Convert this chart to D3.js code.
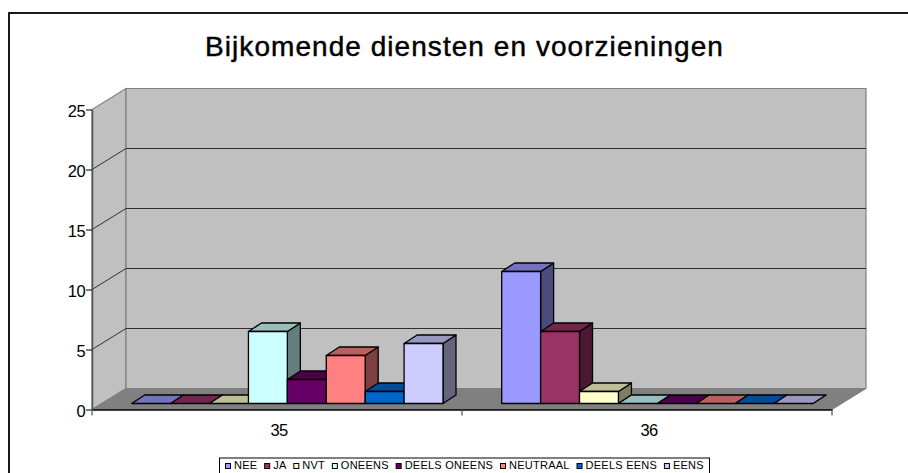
<!DOCTYPE html>
<html>
<head>
<meta charset="utf-8">
<script src="https://cdn.jsdelivr.net/npm/d3@7"></script>
<style>
  html, body { margin: 0; padding: 0; background: #fff; overflow: hidden; }
  text { font-family: "Liberation Sans", Arial, sans-serif; fill: #000; }
</style>
</head>
<body>
<script>
const titleText = "Bijkomende diensten en voorzieningen";
const categories = ["35", "36"];
const seriesNames = ["NEE", "JA", "NVT", "ONEENS", "DEELS ONEENS", "NEUTRAAL", "DEELS EENS", "EENS"];
const seriesColors = ["#9999FF", "#993366", "#FFFFCC", "#CCFFFF", "#660066", "#FF8080", "#0066CC", "#CCCCFF"];
const values35 = [0, 0, 0, 6, 2, 4, 1, 5];
const values36 = [11, 6, 1, 0, 0, 0, 0, 0];
const yTicks = [0, 5, 10, 15, 20, 25];

const w = 908;
const h = 473;

// the 3d box: front plane and how far the back wall is pushed away
const wallDx = 34;
const wallDy = -21;
// bars stand a little in from the front edge of the floor
const barDy = -6;
const depthDx = 13;
const depthDy = -8.5;

let svg = d3.select("body")
            .append("svg")
            .attr("width", w)
            .attr("height", h)
            .style("display", "block");

let x = d3.scaleBand().domain(categories).range([92, 832]);
let xs = d3.scaleBand().domain(seriesNames).range([39.7, 351]);
let y = d3.scaleLinear().domain([0, 25]).range([409.5, 109.5]);

let poly = (pts) => pts.map((p) => p.join(",")).join(" ");

// outer frame, runs off the picture on the right and at the bottom
svg.append("rect")
    .attr("x", 9).attr("y", 13)
    .attr("width", w + 20).attr("height", h + 20)
    .attr("fill", "#fff")
    .attr("stroke", "#000")
    .attr("stroke-width", 1.8);

svg.append("text")
    .attr("x", 464.5).attr("y", 55.5)
    .attr("text-anchor", "middle")
    .attr("font-size", 28)
    .attr("letter-spacing", 1.05)
    .attr("stroke", "#000")
    .attr("stroke-width", 0.45)
    .text(titleText);

// walls and floor
const x0 = x.range()[0], x1 = x.range()[1];
const y0 = y(0), yTop = y(25);

svg.append("polygon")
    .attr("points", poly([[x0, y0], [x0 + wallDx, y0 + wallDy], [x0 + wallDx, yTop + wallDy], [x0, yTop]]))
    .attr("fill", "#C0C0C0").attr("stroke", "#808080").attr("stroke-width", 1.2);
svg.append("polygon")
    .attr("points", poly([[x0 + wallDx, y0 + wallDy], [x1 + wallDx, y0 + wallDy], [x1 + wallDx, yTop + wallDy], [x0 + wallDx, yTop + wallDy]]))
    .attr("fill", "#C0C0C0").attr("stroke", "#808080").attr("stroke-width", 1.2);
svg.append("polygon")
    .attr("points", poly([[x0, y0], [x1, y0], [x1 + wallDx, y0 + wallDy], [x0 + wallDx, y0 + wallDy]]))
    .attr("fill", "#808080").attr("stroke", "#808080").attr("stroke-width", 1);

// gridlines go up the side wall and then across the back
svg.selectAll("polyline.grid")
    .data(yTicks.slice(1, -1))
    .enter()
    .append("polyline")
    .attr("class", "grid")
    .attr("fill", "none")
    .attr("stroke", "#303030")
    .attr("stroke-width", 1)
    .attr("points", (d) => poly([[x0, y(d)], [x0 + wallDx, y(d) + wallDy], [x1 + wallDx, y(d) + wallDy]]));

// bars, left to right so each one covers the side of the one before
let bars = [];
categories.forEach((c, ci) => {
    let vals = ci === 0 ? values35 : values36;
    seriesNames.forEach((s, si) => {
        bars.push({ cat: c, name: s, value: vals[si], color: seriesColors[si] });
    });
});

let barG = svg.selectAll("g.bar")
    .data(bars)
    .enter()
    .append("g")
    .attr("class", "bar")
    .attr("stroke", "#000")
    .attr("stroke-width", 1.3)
    .attr("stroke-linejoin", "round");

let barLeft = (d) => x(d.cat) + xs(d.name);
let barRight = (d) => barLeft(d) + xs.bandwidth();
let base = barDy + y(0);
let barTop = (d) => y(d.value) + barDy;

barG.append("polygon")
    .attr("points", (d) => poly([[barRight(d), base], [barRight(d) + depthDx, base + depthDy], [barRight(d) + depthDx, barTop(d) + depthDy], [barRight(d), barTop(d)]]))
    .attr("fill", (d) => d3.rgb(d.color).darker(2).formatHex());
barG.append("polygon")
    .attr("points", (d) => poly([[barLeft(d), barTop(d)], [barLeft(d) + depthDx, barTop(d) + depthDy], [barRight(d) + depthDx, barTop(d) + depthDy], [barRight(d), barTop(d)]]))
    .attr("fill", (d) => d3.rgb(d.color).darker(0.83).formatHex());
barG.filter((d) => d.value > 0)
    .append("rect")
    .attr("x", barLeft)
    .attr("y", barTop)
    .attr("width", xs.bandwidth())
    .attr("height", (d) => base - barTop(d))
    .attr("fill", (d) => d.color);

// axes
let yAxis = svg.append("g")
    .attr("transform", "translate(" + x0 + ",0)")
    .call(d3.axisLeft(y).tickValues(yTicks).tickSize(6).tickSizeOuter(0).tickPadding(1));
yAxis.select(".domain").attr("stroke", "#505050").attr("stroke-width", 1.5);
yAxis.selectAll("line").attr("stroke", "#000");
yAxis.selectAll("text").attr("font-size", 16.5).attr("font-family", "Liberation Sans").attr("letter-spacing", -0.6).attr("y", 1.5);

let xAxis = svg.append("g")
    .attr("transform", "translate(0," + y0 + ")")
    .call(d3.axisBottom(x).tickSize(0).tickPadding(15));
xAxis.select(".domain").attr("stroke", "#000").attr("stroke-width", 1.3);
xAxis.selectAll("text").attr("font-size", 16.5).attr("font-family", "Liberation Sans").attr("letter-spacing", -0.6).attr("dx", 2);
// category ticks sit on the band edges
svg.selectAll("line.xtick")
    .data([x0, ...categories.map((c) => x(c) + x.bandwidth())])
    .enter()
    .append("line")
    .attr("class", "xtick")
    .attr("x1", (d) => d).attr("x2", (d) => d)
    .attr("y1", y0).attr("y2", y0 + 6)
    .attr("stroke", "#505050").attr("stroke-width", 1.2);

// legend
let legend = svg.append("g");
legend.append("rect")
    .attr("x", 219.5).attr("y", 458)
    .attr("width", 490).attr("height", 30)
    .attr("fill", "#fff").attr("stroke", "#000").attr("stroke-width", 1);

let lx = 225;
seriesNames.forEach((s, i) => {
    legend.append("rect")
        .attr("x", lx + 0.5).attr("y", 463.5)
        .attr("width", 5).attr("height", 5)
        .attr("fill", seriesColors[i])
        .attr("stroke", "#000").attr("stroke-width", 1);
    let t = legend.append("text")
        .attr("x", lx + 9).attr("y", 469)
        .attr("font-size", 11)
        .attr("letter-spacing", 0.25)
        .text(s);
    lx += 9 + t.node().getComputedTextLength() + 6.8;
});
</script>
</body>
</html>
